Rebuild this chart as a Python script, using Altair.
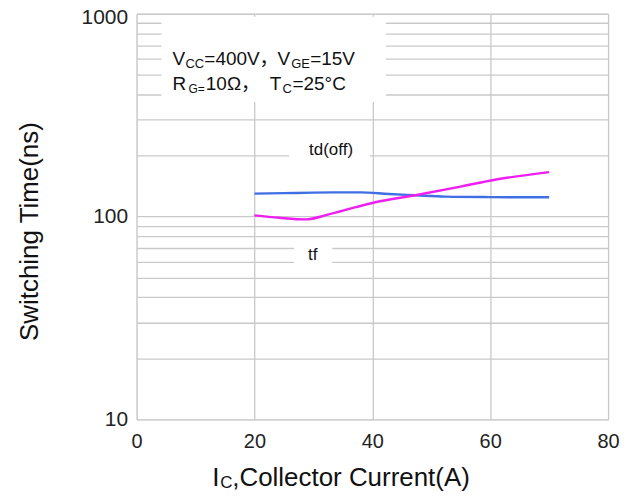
import altair as alt
import pandas as pd

# ---- data ----
series_names = ["td(off)", "tf"]
current_td = [20, 25, 30, 35, 38, 42.8, 47.3, 52.4, 60, 70]
time_td = [129.8, 130.5, 131.3, 131.7, 131.7, 129.2, 127.4, 125.5, 124.8, 124.5]
current_tf = [20, 24.2, 28.7, 32.6, 37.2, 40.5, 47.3, 55.2, 60.8, 70]
time_tf = [101.4, 98.7, 96.9, 102.5, 111.3, 117.7, 127.4, 141, 152, 165.8]
x_ticks = [0, 20, 40, 60, 80]
y_grid = [10, 20, 30, 40, 50, 60, 70, 80, 90,
          100, 200, 300, 400, 500, 600, 700, 800, 900, 1000]
y_labels = [10, 100, 1000]

df = pd.DataFrame({
    "Ic": current_td + current_tf,
    "t": time_td + time_tf,
    "series": [series_names[0]] * len(current_td) + [series_names[1]] * len(current_tf),
})

FONT = "Liberation Sans"
FONT_ANN = "Liberation Sans, 'Noto Sans CJK SC'"
GRID = "#c9c9c9"
xs = alt.Scale(domain=[0, 80], nice=False, zero=False)
ys = alt.Scale(type="log", domain=[10, 1000], nice=False)

x_axis = alt.Axis(values=x_ticks, title=None, grid=True, ticks=False, domain=False,
                  labelPadding=12, labelFontSize=20, labelColor="#222222", labelFont=FONT,
                  gridColor=GRID, gridWidth=1.3, labelFlush=False)
y_axis = alt.Axis(values=y_grid,
                  labelExpr="indexof(" + str(y_labels) + ", datum.value) >= 0 ? format(datum.value, 'd') : ''",
                  labelOffset=alt.ExprRef(expr="datum.value == 1000 ? 4 : 0"),
                  title="Switching Time(ns)", titleFont=FONT, titleFontSize=26,
                  titleFontWeight="normal", titleColor="#111111",
                  titleX=-107, titleY=218, titleAngle=-90, titleBaseline="middle", titleAlign="center",
                  grid=True, ticks=False, domain=False, labelPadding=9, labelFontSize=21,
                  labelColor="#222222", labelFont=FONT, gridColor=GRID, gridWidth=1.3,
                  labelFlush=False)

dummy = pd.DataFrame({"a": [0]})


def box(x1, x2, y1, y2):
    return alt.Chart(dummy).mark_rect(color="white").encode(
        x=alt.datum(x1), x2=alt.datum(x2), y=alt.datum(y1), y2=alt.datum(y2))


def label(text, x, y, size=19, dy=0, align="left"):
    return alt.Chart(dummy).mark_text(
        text=text, font=FONT_ANN, fontSize=size, color="#111111", align=align,
        baseline="middle", dy=dy).encode(x=alt.datum(x), y=alt.datum(y))


def pxlabel(text, x, y, size=25):
    return alt.Chart(dummy).mark_text(
        text=text, font=FONT, fontSize=size, color="#111111", align="left",
        baseline="middle").encode(x=alt.value(x), y=alt.value(y))


lines = alt.Chart(df).mark_line(strokeWidth=2.4, interpolate="monotone").encode(
    x=alt.X("Ic:Q", scale=xs, axis=x_axis),
    y=alt.Y("t:Q", scale=ys, axis=y_axis),
    color=alt.Color("series:N", scale=alt.Scale(domain=series_names,
                                                range=["#3f6fe3", "#ee1ff0"]), legend=None),
    detail="series:N",
)

layers = [
    lines,
    box(4.23, 42.3, 966, 367),
    box(25.9, 39.6, 239, 177),
    box(26.7, 33.2, 76, 54),
    # condition box
    label("V", 6.09, 596), label("CC", 8.29, 596, size=13, dy=5),
    label("=400V，", 11.5, 596), label("V", 23.9, 596),
    label("GE", 26.25, 596, size=13, dy=5), label("=15V", 29.46, 596),
    label("R", 6.09, 450), label("G=", 8.79, 450, size=12, dy=5),
    label("10Ω，", 11.75, 450), label("T", 22.6, 450),
    label("C", 24.75, 450, size=13, dy=5), label("=25°C", 26.45, 450),
    # curve labels
    label("td(off)", 33.0, 214, size=17, align="center"),
    label("tf", 29.9, 65, size=17, align="center"),
    # x title with subscript
    pxlabel("I", 76, 466, size=26),
    pxlabel("C", 84, 471, size=17),
    pxlabel(",Collector Current(A)", 96, 466, size=26),
]

chart = alt.layer(*layers).properties(
    width=473, height=407,
    autosize=alt.AutoSizeParams(type="none"),
    padding={"left": 129, "top": 5, "right": 18, "bottom": 74},
).configure_view(stroke="#b3b3b3", strokeWidth=2).configure(background="white")

chart.save("out.html", embed_options={"renderer": "svg", "actions": False})
